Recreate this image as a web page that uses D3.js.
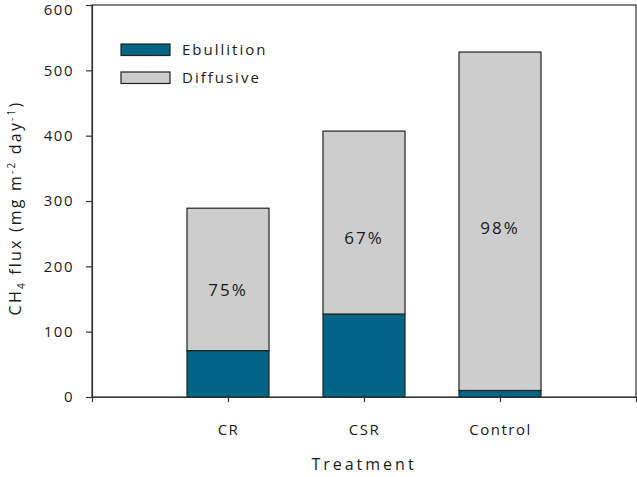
<!DOCTYPE html>
<html>
<head>
<meta charset="utf-8">
<script src="https://cdn.jsdelivr.net/npm/d3@7"></script>
<style>
  body { margin: 0; background: #fff; }
  text { font-family: "Open Sans", "DejaVu Sans", sans-serif; fill: #1a1a1a; }
</style>
</head>
<body>
<svg id="chart" width="637" height="477"></svg>
<script>
const categories = ["CR", "CSR", "Control"];
const ebullition = [71, 127, 10];
const diffusive = [218, 280, 518];
const percentLabels = ["75%", "67%", "98%"];
const percentLabelY = [164, 243, 259];
const yTicks = [0, 100, 200, 300, 400, 500, 600];
const seriesNames = ["Ebullition", "Diffusive"];
const colors = ["#006587", "#cdcdcd"];

const svg = d3.select("#chart");
const mLeft = 92, mRight = 636, mTop = 5, mBottom = 397;

const x = d3.scalePoint().domain(categories).range([mLeft, mRight]).padding(1);
const y = d3.scaleLinear().domain([0, 600]).range([mBottom, mTop]);
const barW = 82;

const rows = categories.map((c, i) => ({ cat: c, Ebullition: ebullition[i], Diffusive: diffusive[i] }));
const stack = d3.stack().keys(seriesNames)(rows);

// frame
svg.append("rect").attr("x", mLeft).attr("y", mTop).attr("width", mRight - mLeft).attr("height", mBottom - mTop)
  .attr("fill", "none").attr("stroke", "#333").attr("stroke-width", 1.2);

// bars
stack.forEach((s, si) => {
  svg.append("g").selectAll("rect").data(s).join("rect")
    .attr("x", d => x(d.data.cat) - barW / 2)
    .attr("width", barW)
    .attr("y", d => y(d[1]))
    .attr("height", d => y(d[0]) - y(d[1]))
    .attr("fill", colors[si])
    .attr("stroke", "#222")
    .attr("stroke-width", 1.2);
});

// percent labels
svg.append("g").selectAll("text").data(categories).join("text")
  .attr("x", d => x(d))
  .attr("y", (d, i) => y(percentLabelY[i]))
  .attr("dy", "0.35em")
  .attr("text-anchor", "middle")
  .attr("font-size", 17)
  .attr("letter-spacing", 2)
  .text((d, i) => percentLabels[i]);

// y axis
const yAxis = svg.append("g").attr("transform", `translate(${mLeft},0)`)
  .call(d3.axisLeft(y).tickValues(yTicks).tickSize(6).tickPadding(12));
yAxis.select(".domain").attr("stroke", "#333").attr("stroke-width", 1.2);
yAxis.selectAll(".tick line").attr("stroke", "#333").attr("stroke-width", 1.2);
yAxis.selectAll(".tick text").attr("font-size", 15).attr("letter-spacing", 1.5)
  .attr("font-family", "Open Sans, sans-serif").attr("fill", "#1a1a1a");
yAxis.selectAll(".tick text").filter(d => d === 600).attr("dy", "0.62em");

// x axis
const xAxis = svg.append("g").attr("transform", `translate(0,${mBottom})`)
  .call(d3.axisBottom(x).tickSize(5).tickPadding(22));
xAxis.select(".domain").attr("stroke", "#333").attr("stroke-width", 1.2);
xAxis.selectAll(".tick line").attr("stroke", "#333").attr("stroke-width", 1.2);
xAxis.selectAll(".tick text").attr("font-size", 15).attr("letter-spacing", 1.5)
  .attr("font-family", "Open Sans, sans-serif").attr("fill", "#1a1a1a");

// axis titles
svg.append("text").attr("x", (mLeft + mRight) / 2).attr("y", 470)
  .attr("text-anchor", "middle").attr("font-size", 16).attr("letter-spacing", 3)
  .text("Treatment");

const yl = svg.append("text")
  .attr("transform", "translate(21,208) rotate(-90)")
  .attr("text-anchor", "middle").attr("font-size", 16).attr("letter-spacing", 2.2);
yl.append("tspan").text("CH");
yl.append("tspan").attr("font-size", 10).attr("dy", 4).text("4");
yl.append("tspan").attr("dy", -4).text(" flux (mg m");
yl.append("tspan").attr("font-size", 10).attr("dy", -6).text("-2");
yl.append("tspan").attr("dy", 6).text(" day");
yl.append("tspan").attr("font-size", 10).attr("dy", -6).text("-1");
yl.append("tspan").attr("dy", 6).text(")");

// legend
const legend = svg.append("g");
seriesNames.forEach((name, i) => {
  const ly = 44 + i * 28;
  legend.append("rect").attr("x", 121).attr("y", ly).attr("width", 49).attr("height", 11.5)
    .attr("fill", colors[i]).attr("stroke", "#222").attr("stroke-width", 1.2);
  legend.append("text").attr("x", 182).attr("y", ly + 6).attr("dy", "0.35em")
    .attr("font-size", 15).attr("letter-spacing", 2).text(name);
});
</script>
</body>
</html>
